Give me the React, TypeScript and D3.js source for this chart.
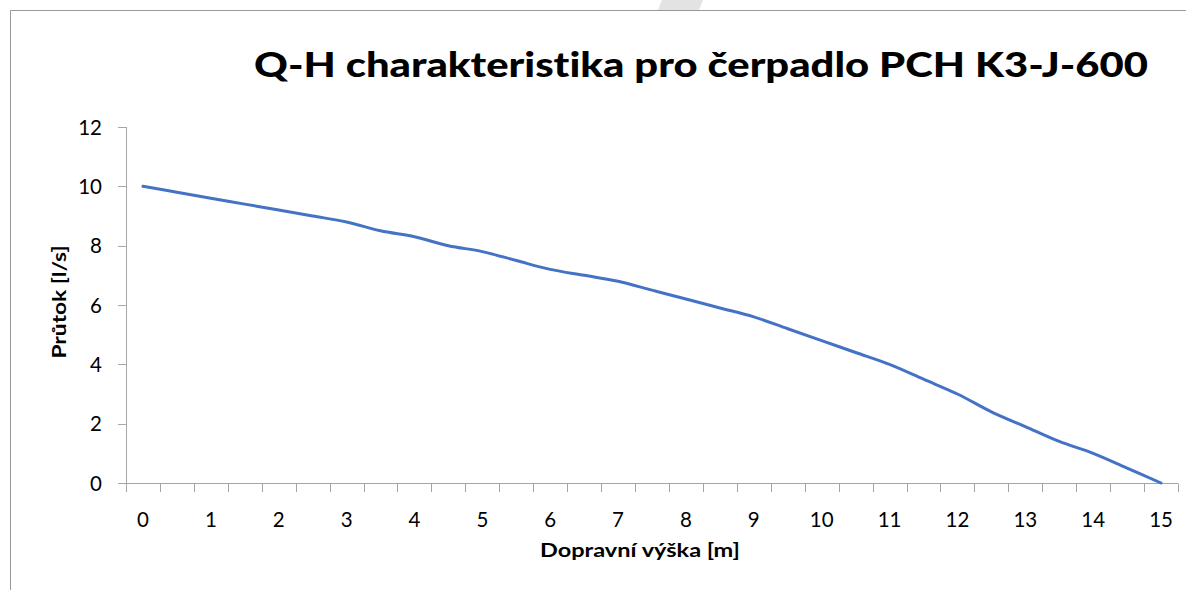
import React from 'react';
import * as d3 from 'd3';

// Dopravní výška [m] – categories of the x axis
const heights = [
  '0', '0.5', '1', '1.5', '2', '2.5', '3', '3.5', '4', '4.5', '5', '5.5', '6', '6.5', '7', '7.5',
  '8', '8.5', '9', '9.5', '10', '10.5', '11', '11.5', '12', '12.5', '13', '13.5', '14', '14.5', '15',
];
// Průtok [l/s]
const flows = [
  10, 9.8, 9.6, 9.4, 9.2, 9.0, 8.8, 8.5, 8.3, 8.0, 7.8, 7.5, 7.2, 7.0, 6.8, 6.5,
  6.2, 5.9, 5.6, 5.2, 4.8, 4.4, 4.0, 3.5, 3.0, 2.4, 1.9, 1.4, 1.0, 0.5, 0,
];
const yTicks = [0, 2, 4, 6, 8, 10, 12];

const W = 1186;
const H = 590;
const font = 'Lato, "Open Sans", sans-serif';
const axisColor = '#a6a6a6';
const noLig: React.CSSProperties = { fontVariantLigatures: 'none', fontFeatureSettings: '"liga" 0, "dlig" 0' };

const App: React.FC = () => {
  const x = d3.scaleBand<string>().domain(heights).range([126, 1178]).padding(0);
  const y = d3.scaleLinear().domain([0, 12]).range([483, 127]);
  const cx = (c: string) => (x(c) ?? 0) + x.bandwidth() / 2;

  const line = d3
    .line<number>()
    .x((_, i) => cx(heights[i]))
    .y(d => y(d))
    .curve(d3.curveCatmullRom.alpha(0.5));

  // tick marks sit on the category boundaries
  const boundaries = heights.map(c => x(c) ?? 0).concat([x.range()[1]]);

  return (
    <svg width={W} height={H} style={{ position: 'absolute', left: 0, top: 0, background: '#fff' }}>
      {/* stray watermark fragment and chart frame */}
      <polygon points="662,0 703,0 699,10 658,10" fill="#e3e3e3" />
      <path d={`M10.5,${H} V10.5 H${W}`} fill="none" stroke="#999" strokeWidth={1} />

      <text
        x={701}
        y={77}
        textAnchor="middle"
        fontFamily={font}
        fontWeight={900}
        fontSize={35}
        textLength={894}
        lengthAdjust="spacingAndGlyphs"
        style={noLig}
      >
        Q-H charakteristika pro čerpadlo PCH K3-J-600
      </text>

      {/* y axis */}
      <line x1={126.5} x2={126.5} y1={y(12)} y2={y(0)} stroke={axisColor} />
      {yTicks.map(t => (
        <g key={t}>
          <line x1={118} x2={126.5} y1={Math.round(y(t)) + 0.5} y2={Math.round(y(t)) + 0.5} stroke={axisColor} />
          <text x={102} y={y(t) + 7.5} textAnchor="end" fontFamily={font} fontSize={20.5} fill="#000">
            {t}
          </text>
        </g>
      ))}

      {/* x axis */}
      <line x1={126} x2={1178} y1={483.5} y2={483.5} stroke={axisColor} />
      {boundaries.map((b, i) => (
        <line key={i} x1={Math.round(b) + 0.5} x2={Math.round(b) + 0.5} y1={483.5} y2={492} stroke={axisColor} />
      ))}
      {heights
        .filter(c => Number.isInteger(+c))
        .map(c => (
          <text key={c} x={cx(c)} y={527} textAnchor="middle" fontFamily={font} fontSize={20.5} fill="#000">
            {c}
          </text>
        ))}

      <text
        x={640}
        y={557}
        textAnchor="middle"
        fontFamily={font}
        fontWeight="bold"
        fontSize={18.5}
        textLength={200}
        lengthAdjust="spacingAndGlyphs"
        style={noLig}
      >
        Dopravní výška [m]
      </text>
      <text
        transform="translate(66,302) rotate(-90)"
        textAnchor="middle"
        fontFamily={font}
        fontWeight="bold"
        fontSize={18.5}
        textLength={113}
        lengthAdjust="spacingAndGlyphs"
        style={noLig}
      >
        Průtok [l/s]
      </text>

      <path d={line(flows) ?? ''} fill="none" stroke="#4472c4" strokeWidth={3} strokeLinecap="round" strokeLinejoin="round" />
    </svg>
  );
};

export default App;
